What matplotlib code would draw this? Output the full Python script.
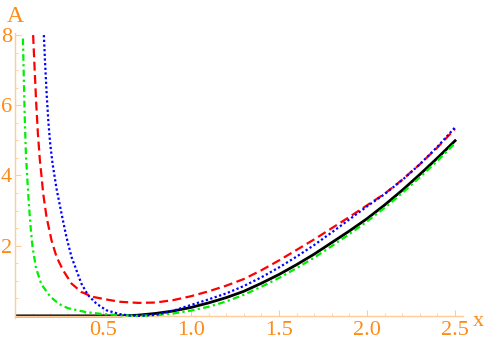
import matplotlib
matplotlib.use('Agg')
import matplotlib.pyplot as plt
from matplotlib.ticker import MultipleLocator, FixedLocator

# --- style ---
plt.rcParams.update({
    'font.family': ['Liberation Serif', 'DejaVu Serif'],
    'font.size': 16,
})

ORANGE = '#FF8A14'
AXIS_ORANGE = '#FFCB96'

# --- data ---
# black, solid
x_black = [0.0, 0.6, 0.7, 0.8, 0.9, 1.0, 1.1, 1.2, 1.3, 1.4, 1.5, 1.6, 1.7,
           1.8, 1.9, 2.0, 2.1, 2.2, 2.3, 2.4, 2.5]
a_black = [0.0, 0.0, 0.02, 0.07, 0.14, 0.24, 0.37, 0.52, 0.70, 0.93, 1.18,
           1.46, 1.76, 2.09, 2.42, 2.77, 3.16, 3.58, 4.03, 4.50, 4.99]

# red, dashed
x_red = [0.103, 0.11, 0.12, 0.13, 0.141, 0.151, 0.16, 0.179, 0.207, 0.236,
         0.273, 0.321, 0.377, 0.443, 0.538, 0.6, 0.7, 0.8, 0.9, 1.0, 1.1,
         1.2, 1.3, 1.4, 1.5, 1.6, 1.7, 1.8, 1.9, 2.0, 2.1, 2.2, 2.3, 2.4, 2.5]
a_red = [8.0, 7.2, 6.1, 5.2, 4.45, 3.96, 3.49, 2.82, 2.16, 1.68,
         1.30, 0.92, 0.68, 0.54, 0.45, 0.40, 0.37, 0.38, 0.45, 0.56, 0.70,
         0.86, 1.05, 1.30, 1.58, 1.88, 2.18, 2.50, 2.82, 3.15, 3.48, 3.88,
         4.32, 4.80, 5.33]

# blue, dotted
x_blue = [0.164, 0.17, 0.18, 0.19, 0.2, 0.213, 0.236, 0.264, 0.292, 0.321,
          0.349, 0.377, 0.415, 0.462, 0.519, 0.594, 0.65, 0.7, 0.8, 0.9,
          1.0, 1.1, 1.2, 1.3, 1.4, 1.5, 1.6, 1.7, 1.8, 1.9, 2.0, 2.1, 2.2,
          2.3, 2.4, 2.5]
a_blue = [8.0, 7.3, 6.3, 5.5, 4.9, 4.35, 3.62, 2.92, 2.25, 1.68,
          1.30, 0.92, 0.59, 0.35, 0.16, 0.05, 0.01, 0.0, 0.03, 0.15,
          0.31, 0.47, 0.64, 0.85, 1.10, 1.38, 1.69, 2.02, 2.38, 2.75, 3.12,
          3.47, 3.87, 4.32, 4.82, 5.37]

# green, dot-dashed
x_green = [0.045, 0.05, 0.055, 0.062, 0.07, 0.08, 0.09, 0.1, 0.12, 0.15,
           0.2, 0.25, 0.3, 0.4, 0.5, 0.6, 0.7, 0.8, 0.9, 1.0, 1.1, 1.2,
           1.3, 1.4, 1.5, 1.6, 1.7, 1.8, 1.9, 2.0, 2.1, 2.2, 2.3, 2.4, 2.5]
a_green = [7.9, 6.8, 5.7, 4.6, 3.9, 3.1, 2.45, 1.95, 1.35, 0.9,
           0.55, 0.34, 0.22, 0.11, 0.05, 0.02, 0.0, 0.02, 0.07, 0.15, 0.26,
           0.41, 0.60, 0.83, 1.08, 1.36, 1.66, 1.99, 2.33, 2.69, 3.08, 3.50,
           3.95, 4.42, 4.92]

x_ticks = [0.5, 1.0, 1.5, 2.0, 2.5]
x_tick_labels = ['0.5', '1.0', '1.5', '2.0', '2.5']
y_ticks = [2, 4, 6, 8]


def plot_curves():
    fig = plt.figure(figsize=(4.84, 3.46), dpi=100)
    ax = fig.add_axes([0.031, 0.081, 0.9256, 0.8237])

    lw = 1.6
    ax.plot(x_black, a_black, color='black', lw=lw + 0.4, zorder=2)
    ax.plot(x_green, a_green, color='#00EE00', lw=lw, dashes=(3, 1.5, 1, 1.5), zorder=3)
    ax.plot(x_red, a_red, color='#FF0000', lw=lw, dashes=(4, 2), zorder=3)
    ax.plot(x_blue, a_blue, color='#0000FF', lw=lw, dashes=(1, 1.1), zorder=4)

    ax.set_xlim(0, 2.545)
    ax.set_ylim(-0.06, 8.06)

    # Mathematica-like axes through the origin
    for side in ['top', 'right']:
        ax.spines[side].set_visible(False)
    ax.spines['left'].set_position(('data', 0))
    ax.spines['bottom'].set_position(('data', 0))
    for side in ['left', 'bottom']:
        ax.spines[side].set_color(AXIS_ORANGE)
        ax.spines[side].set_linewidth(1.0)

    ax.xaxis.set_major_locator(FixedLocator(x_ticks))
    ax.set_xticklabels(x_tick_labels)
    ax.xaxis.set_minor_locator(MultipleLocator(0.1))
    ax.yaxis.set_major_locator(FixedLocator(y_ticks))
    ax.yaxis.set_minor_locator(MultipleLocator(0.5))

    ax.tick_params(which='both', direction='in', color=AXIS_ORANGE, labelcolor=ORANGE)
    ax.tick_params(which='major', length=4, width=0.8)
    ax.tick_params(which='minor', length=2.5, width=0.6)
    ax.tick_params(axis='x', which='major', pad=4)
    ax.tick_params(axis='y', which='major', pad=2)

    ax.annotate('A', xy=(0, 1), xycoords=('data', 'axes fraction'),
                xytext=(0, 8), textcoords='offset points', fontsize=17,
                ha='center', va='baseline', color=ORANGE, annotation_clip=False)
    ax.annotate('x', xy=(1, 0), xycoords=('axes fraction', 'data'),
                xytext=(7, -7), textcoords='offset points',
                ha='left', va='baseline', color=ORANGE, annotation_clip=False)

    fig.savefig('out.png', dpi=100)
    plt.close(fig)


if __name__ == '__main__':
    plot_curves()
